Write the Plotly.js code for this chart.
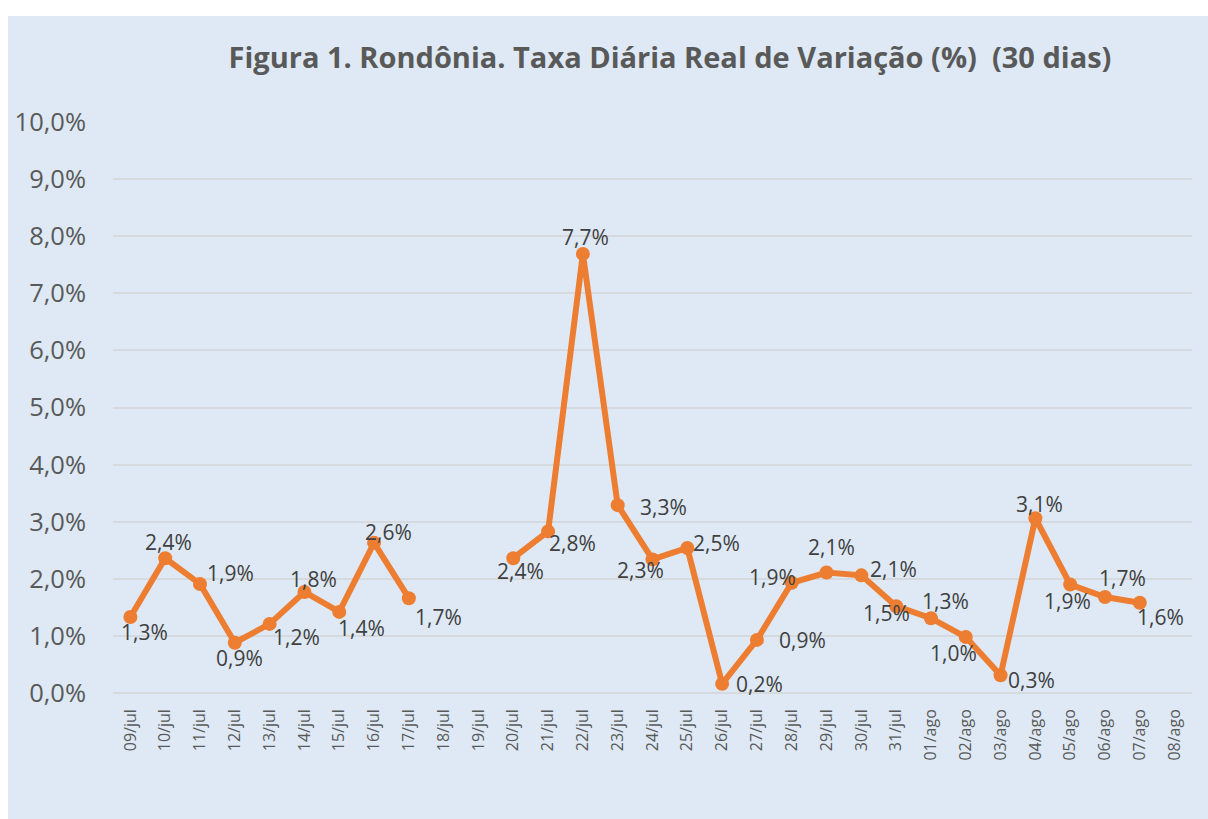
<!DOCTYPE html>
<html>
<head>
<meta charset="utf-8">
<script src="https://cdn.plot.ly/plotly-3.0.1.min.js"></script>
<style>
  html, body { margin: 0; padding: 0; background: #ffffff; width: 1208px; height: 819px; overflow: hidden; }
  #chart { position: absolute; left: 8px; top: 16px; width: 1200px; height: 803px; }
</style>
</head>
<body>
<div id="chart"></div>
<script>
// ---- Data ----
const categories = [
  "09/jul","10/jul","11/jul","12/jul","13/jul","14/jul","15/jul","16/jul","17/jul","18/jul",
  "19/jul","20/jul","21/jul","22/jul","23/jul","24/jul","25/jul","26/jul","27/jul","28/jul",
  "29/jul","30/jul","31/jul","01/ago","02/ago","03/ago","04/ago","05/ago","06/ago","07/ago","08/ago"
];
const taxaDiaria = [
  1.33, 2.36, 1.91, 0.88, 1.21, 1.77, 1.42, 2.63, 1.66, null,
  null, 2.36, 2.83, 7.69, 3.29, 2.34, 2.54, 0.16, 0.93, 1.93,
  2.11, 2.06, 1.52, 1.31, 0.98, 0.31, 3.06, 1.90, 1.68, 1.58, null
];
const yTicks = [0,1,2,3,4,5,6,7,8,9,10];
const yTickLabels = ["0,0%","1,0%","2,0%","3,0%","4,0%","5,0%","6,0%","7,0%","8,0%","9,0%","10,0%"];
const titleText = "Figura 1. Rondônia. Taxa Diária Real de Variação (%)\u00a0\u00a0(30 dias)";

// ---- Label placement (pixel offsets from each point: [dx, dy], dy down) ----
const labelOffsets = [
  [14,15],[3,-16],[30,-11],[5,15],[27,13],[9,-13],[22,16],[14,-11],[30,19],null,
  null,[7,13],[24,12],[3,-17],[46,2],[-12,11],[29,-5],[37,0],[46,0],[-19,-6],
  [5,-26],[32,-6],[-10,7],[15,-17],[-12,16],[31,5],[4,-14],[-3,16],[18,-19],[21,14],null
];

const fontFam = "'Open Sans', 'Noto Sans', sans-serif";

const annotations = [];
categories.forEach((c, i) => {
  const v = taxaDiaria[i];
  if (v === null || v === undefined) return;
  const off = labelOffsets[i] || [0, -16];
  annotations.push({
    x: c, y: v, xref: 'x', yref: 'y',
    text: v.toFixed(1).replace('.', ',') + '%',
    showarrow: false,
    xshift: off[0], yshift: -off[1],
    xanchor: 'center', yanchor: 'middle',
    font: {family: fontFam, size: 21, color: '#404040'}
  });
});

const trace = {
  type: 'scatter',
  mode: 'lines+markers',
  x: categories,
  y: taxaDiaria,
  connectgaps: false,
  line: {color: '#ED7D31', width: 6},
  marker: {color: '#ED7D31', size: 14},
  hoverinfo: 'x+y'
};

const layout = {
  width: 1200, height: 803,
  paper_bgcolor: '#DEE9F5',
  plot_bgcolor: '#DEE9F5',
  separators: ',.',
  margin: {l: 105, r: 16, t: 106, b: 126},
  showlegend: false,
  title: {
    text: titleText,
    font: {family: fontFam, size: 29, color: '#595959', weight: 'bold'},
    x: 662/1200, xanchor: 'center',
    y: 1 - 42/803, yanchor: 'middle', yref: 'container'
  },
  xaxis: {
    type: 'category',
    categoryorder: 'array', categoryarray: categories,
    range: [-0.5, categories.length - 0.5],
    tickangle: -90,
    showgrid: false, zeroline: false, showline: false,
    ticks: '',
    ticklabelstandoff: 12,
    tickfont: {family: fontFam, size: 16, color: '#595959'}
  },
  yaxis: {
    range: [0, 10],
    tickmode: 'array',
    tickvals: yTicks,
    ticktext: yTickLabels,
    showgrid: true, gridcolor: '#D6D9DE', gridwidth: 2,
    zeroline: true, zerolinecolor: '#D6D9DE', zerolinewidth: 2,
    showline: false, ticks: '',
    ticklabelstandoff: 26,
    tickfont: {family: fontFam, size: 25.5, color: '#595959'}
  },
  annotations: annotations
};

Plotly.newPlot('chart', [trace], layout, {displayModeBar: false, staticPlot: true});
</script>
</body>
</html>
